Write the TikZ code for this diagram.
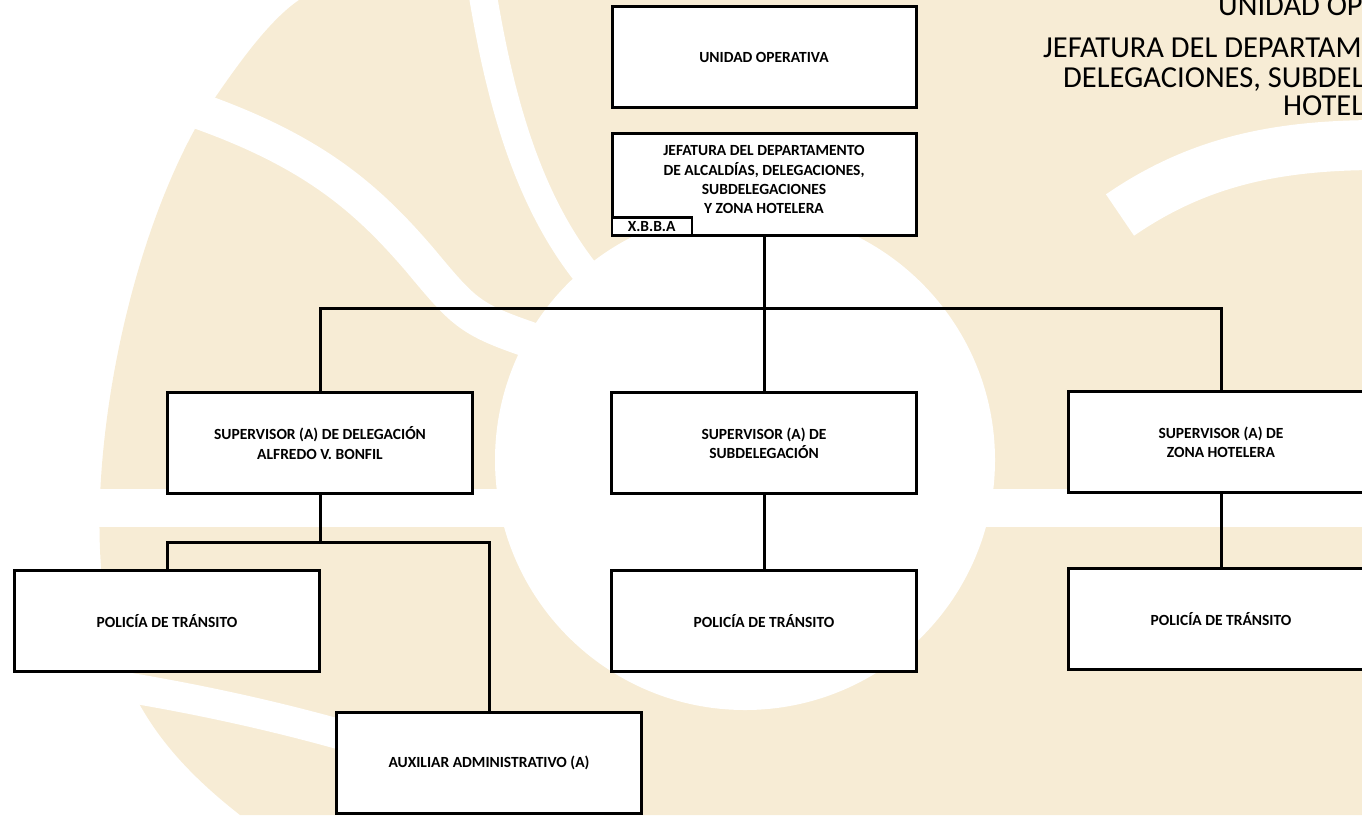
\documentclass[tikz,border=0pt]{standalone}
\usepackage{fontspec}
\setmainfont{Carlito}
\usepackage{xcolor}
\usepackage{tikz}
\definecolor{wmtan}{RGB}{247,236,213}

\begin{document}
\begin{tikzpicture}[
  x=1pt, y=-1pt,
  box/.style={rectangle, draw, line width=3pt, fill=white, minimum width=305pt, minimum height=101pt, align=center, font=\bfseries\fontsize{15.5}{19.4}\selectfont},
  initials/.style={rectangle, draw, line width=2.4pt, fill=white, minimum width=80pt, minimum height=18pt, inner sep=0pt, font=\bfseries\fontsize{15.5}{18}\selectfont},
  heading/.style={anchor=base west, inner sep=0pt, font=\fontsize{30.5}{29}\selectfont},
  link/.style={line width=3pt},
  cutout/.style={white, line width=#1}
]
\useasboundingbox (0,0) rectangle (1362,815);
\clip (0,0) rectangle (1362,815);

% watermark
\fill[wmtan] (299,0) -- (1362,0) -- (1362,815) -- (240,815) .. controls (170,760) and (120,700) .. (105,600)
  .. controls (85,480) and (120,260) .. (200,120) .. controls (240,60) and (270,20) .. (299,0);
\draw[cutout=36pt] (150,95) .. controls (300,140) and (360,190) .. (420,260) .. controls (470,320) .. (560,350);
\draw[cutout=28pt] (482,-10) .. controls (500,100) and (530,220) .. (610,300);
\draw[cutout=30pt] (80,680) .. controls (250,705) and (430,750) .. (600,830);
\draw[cutout=50pt] (1120,215) .. controls (1200,160) and (1280,145) .. (1380,145);
\fill[white] (0,489) rectangle (1362,527);
\fill[white] (745,460) circle [radius=250pt];

\node[heading] (hd1) at (1218,15) {UNIDAD OPERATIVA};
\node[heading] (hd2) at (1043,57) {JEFATURA DEL DEPARTAMENTO DE ALCALDÍAS,};
\node[heading] (hd3) at (1063,87) {DELEGACIONES, SUBDELEGACIONES Y ZONA};
\node[heading] (hd4) at (1283,115) {HOTELERA};

\node[box, minimum width=304pt] (unidad) at (764,57) {UNIDAD OPERATIVA};
\node[box, minimum width=304pt, minimum height=102pt] (jefe) at (764,184) {JEFATURA DEL DEPARTAMENTO\\DE ALCALDÍAS, DELEGACIONES,\\SUBDELEGACIONES\\Y ZONA HOTELERA\\[-11pt]};
\node[initials, anchor=south west] (xbba) at (jefe.south west) {X.B.B.A};

\node[box] (supDel) at (320,443) {SUPERVISOR (A) DE DELEGACIÓN\\ALFREDO V. BONFIL};
\node[box] (supSub) at (764,443) {SUPERVISOR (A) DE\\SUBDELEGACIÓN};
\node[box] (supZona) at (1221,442) {SUPERVISOR (A) DE\\ZONA HOTELERA};

\node[box] (polDel) at (167,621) {POLICÍA DE TRÁNSITO};
\node[box] (auxDel) at (489,763) {AUXILIAR ADMINISTRATIVO (A)};
\node[box] (polSub) at (764,621) {POLICÍA DE TRÁNSITO};
\node[box] (polZona) at (1221,619) {POLICÍA DE TRÁNSITO};

\coordinate (bus) at (764,308);
\coordinate (busDel) at (320,542);
\draw[link] (jefe) -- (bus);
\draw[link] (supDel.north) |- (bus) -| (supZona.north);
\draw[link] (bus) -- (supSub);
\draw[link] (supDel) -- (busDel);
\draw[link] (polDel.north) |- (busDel) -| (auxDel.north);
\draw[link] (supSub) -- (polSub);
\draw[link] (supZona) -- (polZona);
\end{tikzpicture}
\end{document}
